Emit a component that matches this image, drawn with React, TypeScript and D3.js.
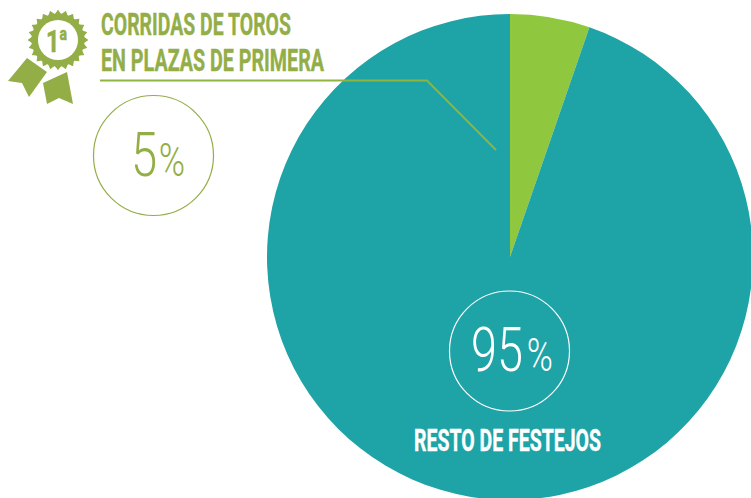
import React from "react";
import * as d3 from "d3";

const categories = ["Corridas de toros en plazas de primera", "Resto de festejos"];
const shares = [5.3, 94.7];
const sliceColors = ["#8FC73E", "#1EA3A7"];
const titleLines = ["CORRIDAS DE TOROS", "EN PLAZAS DE PRIMERA"];
const otherLabel = "RESTO DE FESTEJOS";

const W = 751, H = 498;
const OLIVE = "#93AE47";

function starburst(cx: number, cy: number, R: number, r: number, n: number) {
  const pts: [number, number][] = d3.range(n * 2).map((i) => {
    const a = (i * Math.PI) / n;
    const rad = i % 2 === 0 ? R : r;
    return [cx + rad * Math.sin(a), cy - rad * Math.cos(a)];
  });
  return d3.line().curve(d3.curveCardinalClosed.tension(0.5))(pts) as string;
}

export default function App() {
  const pie = d3.pie<number>().sort(null).value((d) => d);
  const arc = d3.arc<d3.PieArcDatum<number>>().innerRadius(0).outerRadius(243);
  const arcs = pie(shares);
  return (
    <svg width={W} height={H} viewBox={`0 0 ${W} ${H}`} style={{ position: "absolute", left: 0, top: 0, background: "#fff" }}>
      <g transform="translate(510,257)">
        {arcs.map((a, i) => (
          <path key={categories[i]} d={arc(a) as string} fill={sliceColors[i]} />
        ))}
      </g>

      <path d="M100,80.5 H427 L496,150" fill="none" stroke="#8DB53F" strokeWidth={2} />

      <g fontFamily="Roboto" fontWeight={700} fill={OLIVE} stroke={OLIVE} strokeWidth={0.4} fontSize={31}>
        <text x={101} y={35} textLength={190} lengthAdjust="spacingAndGlyphs">{titleLines[0]}</text>
        <text x={101} y={71} textLength={223} lengthAdjust="spacingAndGlyphs">{titleLines[1]}</text>
      </g>

      <circle cx={153.5} cy={155.5} r={60} fill="#fff" stroke={OLIVE} strokeWidth={1.2} />
      <text x={131} y={176} fontFamily="Roboto" fontWeight={300} fill={OLIVE} fontSize={61} textLength={54} lengthAdjust="spacingAndGlyphs">
        5<tspan fontSize={46} dx={2}>%</tspan>
      </text>

      <circle cx={509.5} cy={351} r={60} fill="none" stroke="#fff" strokeWidth={1.2} />
      <text x={471} y={371} fontFamily="Roboto" fontWeight={300} fill="#fff" fontSize={61} textLength={82} lengthAdjust="spacingAndGlyphs">
        95<tspan fontSize={46} dx={5}>%</tspan>
      </text>
      <text x={414} y={451} fontFamily="Roboto" fontWeight={700} fontSize={31} fill="#fff" stroke="#fff" strokeWidth={0.4} textLength={187} lengthAdjust="spacingAndGlyphs">{otherLabel}</text>

      <path d="M8,81 L27,58 L47,72 L29,97 L22,83 Z" fill={OLIVE} />
      <path d="M43,83 L67,72 L73,104 L59,98 L47,104 Z" fill={OLIVE} />
      <path d={starburst(58, 40, 31, 27, 24)} fill={OLIVE} stroke="#fff" strokeWidth={1.2} />
      <circle cx={58} cy={40} r={20} fill="#fff" />
      <text x={46} y={52} fontFamily="Roboto" fontWeight={700} fill={OLIVE} stroke={OLIVE} strokeWidth={0.6} fontSize={32} textLength={21} lengthAdjust="spacingAndGlyphs">
        1<tspan fontSize={19} dy={-12}>a</tspan>
      </text>
    </svg>
  );
}
